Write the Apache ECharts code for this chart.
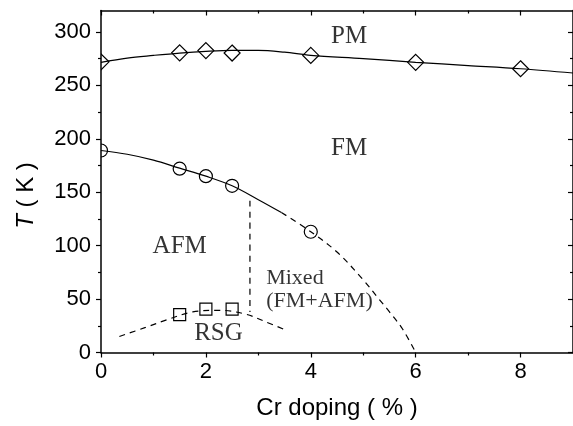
<!DOCTYPE html>
<html>
<head>
<meta charset="utf-8">
<script src="https://cdn.jsdelivr.net/npm/echarts@6/dist/echarts.min.js"></script>
<style>
  html, body { margin: 0; background: #fff; }
  #chart { width: 573px; height: 426px; }
</style>
</head>
<body>
<div id="chart"></div>
<script>
// measured transition temperatures
const pmDoping = [0, 1.5, 2, 2.5, 4, 6, 8];
const pmTemp = [272, 280.4, 282.5, 280.2, 278, 271.5, 265.5];
const fmDoping = [0, 1.5, 2, 2.5, 4];
const fmTemp = [189, 172, 165, 156, 113];
const rsgDoping = [1.5, 2, 2.5];
const rsgTemp = [35.5, 40.5, 40.5];

// guide curves
const pmCurveX = [0, 0.5, 1, 1.5, 2, 2.5, 3, 3.5, 4, 5, 6, 7, 8, 9];
const pmCurveY = [271.5, 275.5, 278, 280.2, 281.8, 282.7, 282.7, 281, 278, 275, 271.5, 268.5, 265.5, 261.5];
const fmSolidX = [0, 0.5, 1, 1.5, 2, 2.5, 3, 3.44];
const fmSolidY = [189, 185.5, 180, 172.5, 165, 156, 143, 131];
const fmDashX = [3.44, 4, 4.5, 5, 5.3, 5.5, 5.75, 6];
const fmDashY = [131, 113, 94, 68, 50, 38, 22, 0];
const splitX = [2.84, 2.84];
const splitY = [142, 38];
const rsgCurveX = [0.35, 0.85, 1.25, 1.75, 2.25, 2.75, 3.15, 3.5];
const rsgCurveY = [15, 23.5, 30.5, 38, 39.5, 36, 28.5, 21.5];

// ticks
const xMajor = [0, 2, 4, 6, 8];
const xMinor = [1, 3, 5, 7];
const yMajor = [0, 50, 100, 150, 200, 250, 300];
const yMinor = [25, 75, 125, 175, 225, 275];

// phase labels [text, doping, T]
const phaseLabels = [
  ['PM', 4.73, 296],
  ['FM', 4.73, 190.5],
  ['AFM', 1.5, 99],
  ['RSG', 2.24, 17.5]
];
const mixedLabel = ['Mixed\n(FM+AFM)', 3.15, 58.6];

const sans = '"Liberation Sans", Arial, Helvetica, sans-serif';
const serif = '"Liberation Serif", "Times New Roman", serif';

const zip = (xs, ys) => xs.map((x, i) => [x, ys[i]]);

function makeAxis(dim, grid, position, ticks, len, withLabels) {
  const isX = dim === 'x';
  const inside = position === 'top' || position === 'right';
  return {
    type: 'value',
    gridIndex: grid,
    position,
    min: 0,
    max: isX ? 9 : 320,
    interval: isX ? (withLabels ? 2 : 1) : (withLabels ? 50 : 25),
    axisLine: { show: withLabels, onZero: false, lineStyle: { color: '#000', width: 1.5 } },
    axisTick: {
      show: true,
      inside,
      length: len,
      customValues: ticks,
      lineStyle: { color: '#000', width: 1.2 }
    },
    axisLabel: {
      show: withLabels && !inside,
      customValues: ticks,
      color: '#000',
      fontFamily: sans,
      fontSize: 22,
      margin: isX ? 8 : 10
    },
    splitLine: { show: false }
  };
}

const xAxes = [
  makeAxis('x', 0, 'bottom', xMajor, 5, true),
  makeAxis('x', 0, 'top', xMajor, 5, true),
  makeAxis('x', 1, 'bottom', xMinor, 3, false),
  makeAxis('x', 1, 'top', xMinor, 3, false)
];
Object.assign(xAxes[0], {
  name: 'Cr doping ( % )',
  nameLocation: 'middle',
  nameGap: 44,
  nameTextStyle: { color: '#000', fontFamily: sans, fontSize: 24 }
});

const yAxes = [
  makeAxis('y', 0, 'left', yMajor, 5, true),
  makeAxis('y', 0, 'right', yMajor, 5, true),
  makeAxis('y', 1, 'left', yMinor, 3, false),
  makeAxis('y', 1, 'right', yMinor, 3, false)
];
Object.assign(yAxes[0], {
  name: '{it|T} ( K )',
  nameLocation: 'middle',
  nameRotate: 90,
  nameGap: 63,
  nameTextStyle: {
    color: '#000', fontFamily: sans, fontSize: 24,
    padding: [0, 28, 0, 0],
    rich: { it: { fontStyle: 'italic', fontFamily: sans, fontSize: 24, color: '#000' } }
  }
});

const gridBox = { left: 101, top: 10.5, width: 474, height: 342 };

const curve = (name, data, dashed) => ({
  name,
  type: 'line',
  xAxisIndex: 0,
  yAxisIndex: 0,
  data,
  smooth: 0.35,
  showSymbol: false,
  symbol: 'none',
  silent: true,
  z: 2,
  lineStyle: { color: '#000', width: 1.2, type: dashed ? [6, 5] : 'solid' }
});

// open markers, clipped to the plot area like the original
const markers = (name, data, shape, size) => ({
  name,
  type: 'custom',
  xAxisIndex: 0,
  yAxisIndex: 0,
  data,
  encode: { x: 0, y: 1 },
  clip: true,
  silent: true,
  z: 3,
  renderItem(params, api) {
    const [cx, cy] = api.coord([api.value(0), api.value(1)]);
    const h = size / 2;
    const style = { fill: 'none', stroke: '#000', lineWidth: 1.2 };
    if (shape === 'circle') {
      return { type: 'circle', shape: { cx, cy, r: h }, style };
    }
    if (shape === 'rect') {
      return { type: 'rect', shape: { x: cx - h, y: cy - h, width: size, height: size }, style };
    }
    return {
      type: 'polygon',
      shape: { points: [[cx, cy - h], [cx + h, cy], [cx, cy + h], [cx - h, cy]] },
      style
    };
  }
});

const chart = echarts.init(document.getElementById('chart'));
chart.setOption({
  animation: false,
  backgroundColor: '#fff',
  grid: [Object.assign({}, gridBox), Object.assign({}, gridBox)],
  xAxis: xAxes,
  yAxis: yAxes,
  series: [
    curve('PM fit', zip(pmCurveX, pmCurveY), false),
    curve('FM fit', zip(fmSolidX, fmSolidY), false),
    curve('FM extrapolation', zip(fmDashX, fmDashY), true),
    curve('AFM/Mixed boundary', zip(splitX, splitY), true),
    curve('RSG fit', zip(rsgCurveX, rsgCurveY), true),
    markers('PM', zip(pmDoping, pmTemp), 'diamond', 16),
    markers('FM', zip(fmDoping, fmTemp), 'circle', 13),
    markers('RSG', zip(rsgDoping, rsgTemp), 'rect', 12),
    {
      type: 'scatter',
      xAxisIndex: 0,
      yAxisIndex: 0,
      symbolSize: 0,
      silent: true,
      z: 4,
      data: phaseLabels.map(([t, x, y]) => ({ name: t, value: [x, y] }))
        .concat([{
          name: mixedLabel[0],
          value: [mixedLabel[1], mixedLabel[2]],
          label: { align: 'left', fontSize: 22, lineHeight: 23 }
        }]),
      label: {
        show: true,
        position: 'inside',
        formatter: p => p.name,
        color: '#000',
        fontFamily: serif,
        fontSize: 25,
        align: 'center',
        verticalAlign: 'middle'
      }
    }
  ]
});
</script>
</body>
</html>
